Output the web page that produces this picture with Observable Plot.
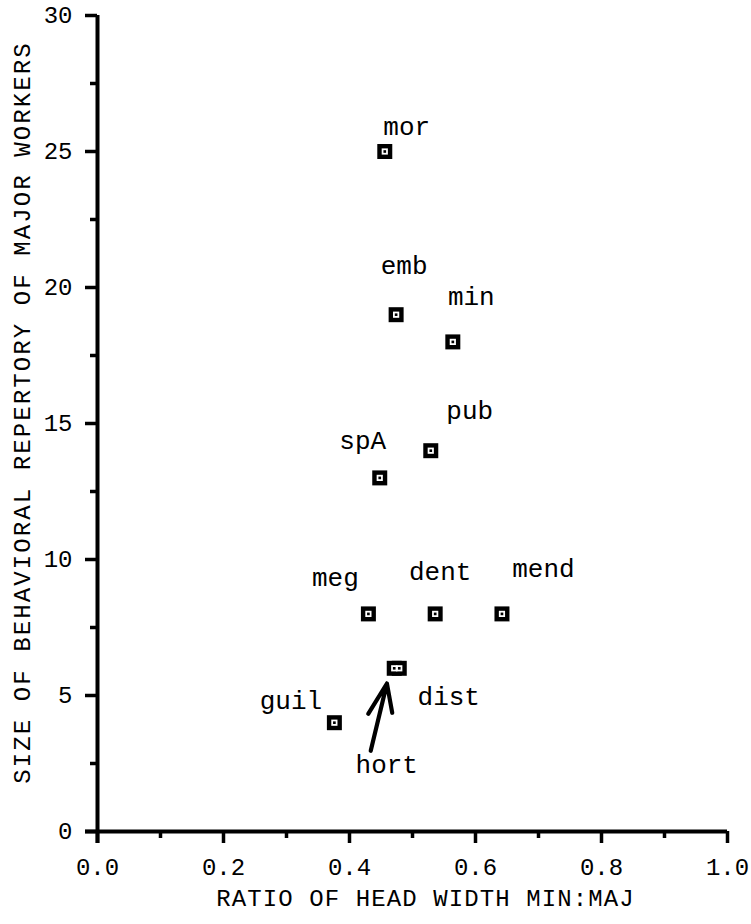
<!DOCTYPE html>
<html><head><meta charset="utf-8">
<script src="https://cdn.jsdelivr.net/npm/d3@7"></script>
<script src="https://cdn.jsdelivr.net/npm/@observablehq/plot@0.6"></script>
<style>
html,body{margin:0;padding:0;background:#fff;}
#chart{width:751px;height:924px;}
</style></head><body><div id="chart"></div>
<script>
// ---- data ----
const species = ["mor","emb","min","pub","spA","meg","dent","mend","hort","dist","guil"];
const headWidthRatio = [0.456,0.474,0.564,0.529,0.448,0.430,0.536,0.642,0.471,0.479,0.376];
const repertorySize = [25,19,18,14,13,8,8,8,6,6,4];
const xTicks = [0,0.2,0.4,0.6,0.8,1.0];
const xMinorTicks = [0.1,0.3,0.5,0.7,0.9];
const yTicks = [0,5,10,15,20,25,30];
const yMinorTicks = [2.5,7.5,12.5,17.5,22.5,27.5];
const xTitle = "RATIO OF HEAD WIDTH MIN:MAJ";
const yTitle = "SIZE OF BEHAVIORAL REPERTORY OF MAJOR WORKERS";
const arrowTarget = "hort";

// ---- layout (pixel offsets of labels relative to their points) ----
const labelOffsets = {
  mor:[22,-25], emb:[8,-49], min:[18.5,-45], pub:[39,-40], spA:[-17,-37.5],
  meg:[-33,-36.5], dent:[5,-42], mend:[41.5,-45], hort:[-7.5,96.5], dist:[49.5,28.6], guil:[-43.5,-22.4]
};
const arrowGeom = {tail:[-23, 83], tip:[-6.8, 15.7], left:[-25.5, 46], right:[-1.5, 45]};

const data = species.map((s,i)=>({species:s, x:headWidthRatio[i], y:repertorySize[i]}));
const FONT = "'Liberation Mono', 'DejaVu Sans Mono', monospace";

function arrowMark(index, scales) {
  const d = data.find(d => d.species === arrowTarget);
  const px = scales.x(d.x), py = scales.y(d.y);
  const P = k => [px + arrowGeom[k][0], py + arrowGeom[k][1]];
  const g = d3.create("svg:g")
    .attr("stroke","black").attr("stroke-width",4.2).attr("fill","none")
    .attr("stroke-linecap","round").attr("stroke-linejoin","round");
  g.append("path").attr("d", `M${P("tail")}L${P("tip")}M${P("left")}L${P("tip")}L${P("right")}`);
  return g.node();
}

const labelMarks = data.map(d => Plot.text([d], {
  x:"x", y:"y", text:"species", fontSize:26, fill:"black",
  dx: labelOffsets[d.species][0], dy: labelOffsets[d.species][1]
}));

const chart = Plot.plot({
  width: 751, height: 924,
  marginLeft: 97, marginRight: 24, marginTop: 15, marginBottom: 93,
  x: {domain:[0,1]}, y: {domain:[0,30]},
  style: {fontFamily: FONT, color:"black", background:"white"},
  marks: [
    Plot.axisY({ticks: yMinorTicks, tickSize: 7, tickFormat: () => "", label: null, strokeWidth: 3.5}),
    Plot.axisY({ticks: yTicks, tickSize: 12, tickPadding: 13, tickFormat: d => String(d), label: null, fontSize: 24, strokeWidth: 3.5}),
    Plot.axisX({ticks: xMinorTicks, tickSize: 7, tickFormat: () => "", label: null, strokeWidth: 3.5}),
    Plot.axisX({ticks: xTicks, tickSize: 12, tickPadding: 14, tickFormat: d3.format(".1f"), label: null, fontSize: 24, strokeWidth: 3.5}),
    Plot.ruleX([0], {strokeWidth: 4, insetBottom: -12}),
    Plot.ruleY([0], {strokeWidth: 4, insetLeft: -12}),
    Plot.dot(data, {x:"x", y:"y", symbol:"square", r:8.46, fill:"black"}),
    Plot.dot(data, {x:"x", y:"y", symbol:"square", r:3.5, fill:"white"}),
    Plot.dot(data, {x:"x", y:"y", symbol:"square", r:1.5, fill:"black"}),
    ...labelMarks,
    arrowMark,
    Plot.text([xTitle], {frameAnchor:"bottom", textAnchor:"middle", dx: 13, dy: 74, fontSize: 24, fill:"black"}),
    Plot.text([yTitle], {frameAnchor:"left", textAnchor:"middle", dx: -75, dy: -11, rotate: -90, fontSize: 24, fill:"black"})
  ]
});
d3.select(chart).selectAll("text").filter(function(){ return this.textContent === xTitle; }).attr("letter-spacing", "1.1px");
d3.select(chart).selectAll("text").filter(function(){ return this.textContent === yTitle; }).attr("letter-spacing", "2.1px");
document.getElementById("chart").appendChild(chart);
</script></body></html>
